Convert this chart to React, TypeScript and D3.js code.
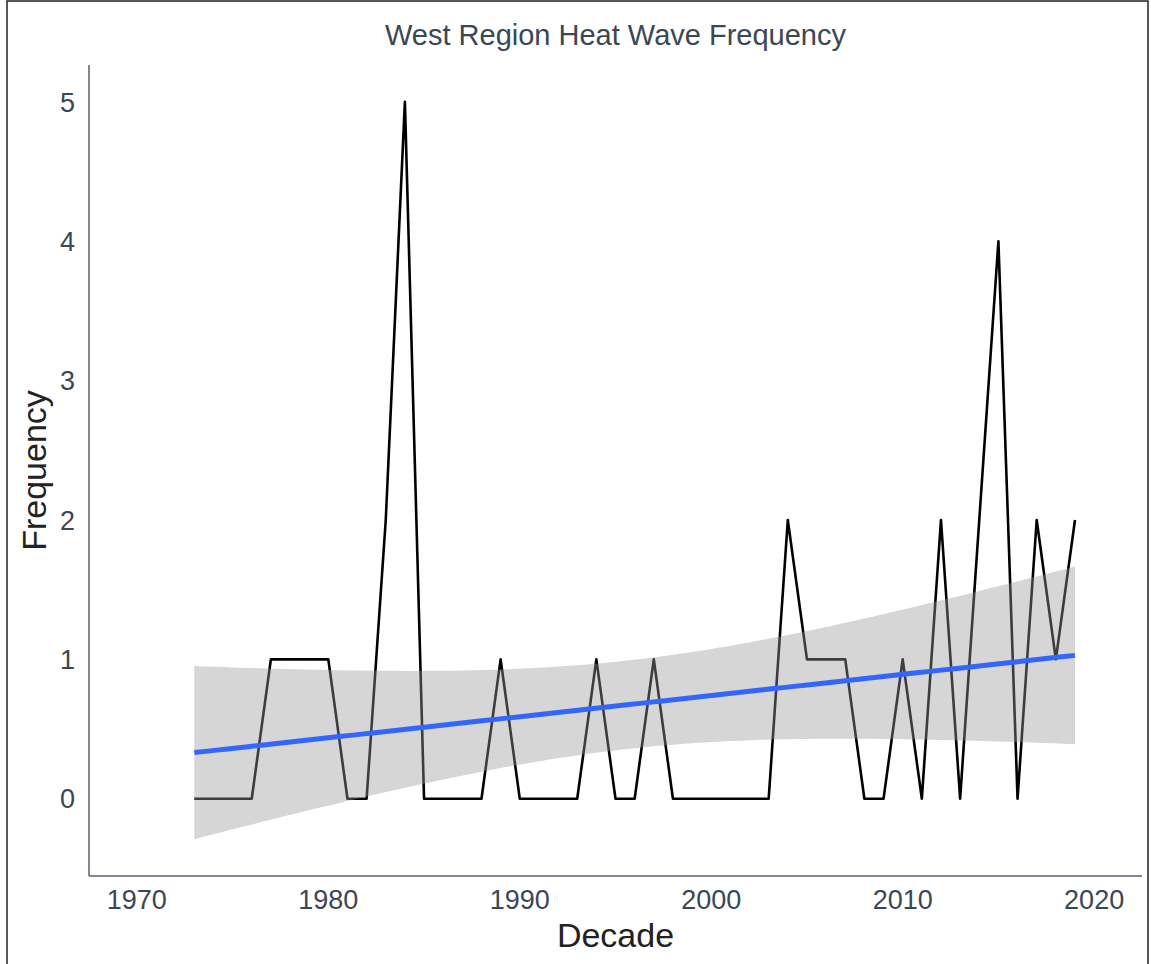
import React from "react";
import * as d3 from "d3";

// Annual heat wave counts for the West region (no record for 2014)
const years: number[] = [
  1973, 1974, 1975, 1976, 1977, 1978, 1979, 1980, 1981, 1982,
  1983, 1984, 1985, 1986, 1987, 1988, 1989, 1990, 1991, 1992,
  1993, 1994, 1995, 1996, 1997, 1998, 1999, 2000, 2001, 2002,
  2003, 2004, 2005, 2006, 2007, 2008, 2009, 2010, 2011, 2012,
  2013, 2015, 2016, 2017, 2018, 2019,
];
const frequency: number[] = [
  0, 0, 0, 0, 1, 1, 1, 1, 0, 0,
  2, 5, 0, 0, 0, 0, 1, 0, 0, 0,
  0, 1, 0, 0, 1, 0, 0, 0, 0, 0,
  0, 2, 1, 1, 1, 0, 0, 1, 0, 2,
  0, 4, 0, 2, 1, 2,
];

const xTicks: number[] = [1970, 1980, 1990, 2000, 2010, 2020];
const yTicks: number[] = [0, 1, 2, 3, 4, 5];

const titleText = "West Region Heat Wave Frequency";
const xLabel = "Decade";
const yLabel = "Frequency";

const W = 1151;
const H = 964;
const panel = { left: 89, right: 1142, top: 65, bottom: 876 };
const textColor = "#3b4754";
const axisColor = "#56626d";
const FONT = "'Liberation Sans', Arial, sans-serif";

// Two-sided 97.5% Student t quantile for small df (interpolated table)
function tQuantile975(df: number): number {
  const table: [number, number][] = [
    [30, 2.0423], [40, 2.0211], [44, 2.0154], [45, 2.0141], [50, 2.0086], [60, 2.0003],
  ];
  for (let i = 0; i < table.length - 1; i++) {
    const [d0, t0] = table[i];
    const [d1, t1] = table[i + 1];
    if (df >= d0 && df <= d1) return t0 + ((t1 - t0) * (df - d0)) / (d1 - d0);
  }
  return 1.96;
}

// Ordinary least squares fit with a 95% confidence band (like geom_smooth(method = "lm"))
function linearFit(xs: number[], ys: number[]) {
  const n = xs.length;
  const xbar = d3.mean(xs)!;
  const ybar = d3.mean(ys)!;
  let sxx = 0;
  let sxy = 0;
  xs.forEach((x, i) => {
    sxx += (x - xbar) ** 2;
    sxy += (x - xbar) * (ys[i] - ybar);
  });
  const slope = sxy / sxx;
  const intercept = ybar - slope * xbar;
  let rss = 0;
  xs.forEach((x, i) => {
    rss += (ys[i] - (intercept + slope * x)) ** 2;
  });
  const s = Math.sqrt(rss / (n - 2));
  const tCrit = tQuantile975(n - 2);
  const lo = d3.min(xs)!;
  const hi = d3.max(xs)!;
  return d3.range(80).map((i) => {
    const x = lo + ((hi - lo) * i) / 79;
    const fit = intercept + slope * x;
    const se = s * Math.sqrt(1 / n + (x - xbar) ** 2 / sxx);
    return { x, fit, lower: fit - tCrit * se, upper: fit + tCrit * se };
  });
}

export default function App() {
  const smooth = linearFit(years, frequency);

  const yMinData = Math.min(d3.min(frequency)!, d3.min(smooth, (d) => d.lower)!);
  const yMaxData = Math.max(d3.max(frequency)!, d3.max(smooth, (d) => d.upper)!);
  const yPad = (yMaxData - yMinData) * 0.05;

  const x = d3
    .scaleLinear()
    .domain([1970 - 2.5, 2020 + 2.5])
    .range([panel.left, panel.right]);
  const y = d3
    .scaleLinear()
    .domain([yMinData - yPad, yMaxData + yPad])
    .range([panel.bottom, panel.top]);

  const series = years.map((yr, i) => ({ yr, v: frequency[i] }));
  const linePath = d3
    .line<{ yr: number; v: number }>()
    .x((d) => x(d.yr))
    .y((d) => y(d.v))(series)!;

  const bandPath = d3
    .area<{ x: number; lower: number; upper: number }>()
    .x((d) => x(d.x))
    .y0((d) => y(d.lower))
    .y1((d) => y(d.upper))(smooth)!;

  const fitPath = d3
    .line<{ x: number; fit: number }>()
    .x((d) => x(d.x))
    .y((d) => y(d.fit))(smooth)!;

  const cx = (panel.left + panel.right) / 2;
  const cy = (panel.top + panel.bottom) / 2;

  return (
    <svg
      width={W}
      height={H}
      style={{ position: "absolute", left: 0, top: 0, background: "#fff" }}
      fontFamily={FONT}
    >
      <rect x={0} y={0} width={W} height={H} fill="#ffffff" />
      <rect x={7} y={1} width={W - 10} height={H + 10} fill="none" stroke="#222" strokeWidth={1.5} />

      <text x={cx} y={45} textAnchor="middle" fontSize={29} fill={textColor}>
        {titleText}
      </text>

      <path
        d={linePath}
        fill="none"
        stroke="#000"
        strokeWidth={2.6}
        strokeLinejoin="round"
      />
      <path d={bandPath} fill="#999999" fillOpacity={0.4} stroke="none" />
      <path d={fitPath} fill="none" stroke="#3366FF" strokeWidth={5} />

      <line
        x1={panel.left}
        x2={panel.left}
        y1={panel.top}
        y2={panel.bottom}
        stroke={axisColor}
        strokeWidth={1.5}
      />
      <line
        x1={panel.left}
        x2={panel.right}
        y1={panel.bottom}
        y2={panel.bottom}
        stroke={axisColor}
        strokeWidth={1.5}
      />

      {xTicks.map((t) => (
        <text
          key={t}
          x={x(t)}
          y={909}
          textAnchor="middle"
          fontSize={27}
          fill={textColor}
        >
          {t}
        </text>
      ))}
      {yTicks.map((t) => (
        <text
          key={t}
          x={75}
          y={y(t)}
          dy="0.36em"
          textAnchor="end"
          fontSize={27}
          fill={textColor}
        >
          {t}
        </text>
      ))}

      <text x={cx} y={947} textAnchor="middle" fontSize={34} fill="#222">
        {xLabel}
      </text>
      <text
        transform={`translate(46, ${cy}) rotate(-90)`}
        textAnchor="middle"
        fontSize={34}
        fill="#222"
      >
        {yLabel}
      </text>
    </svg>
  );
}
